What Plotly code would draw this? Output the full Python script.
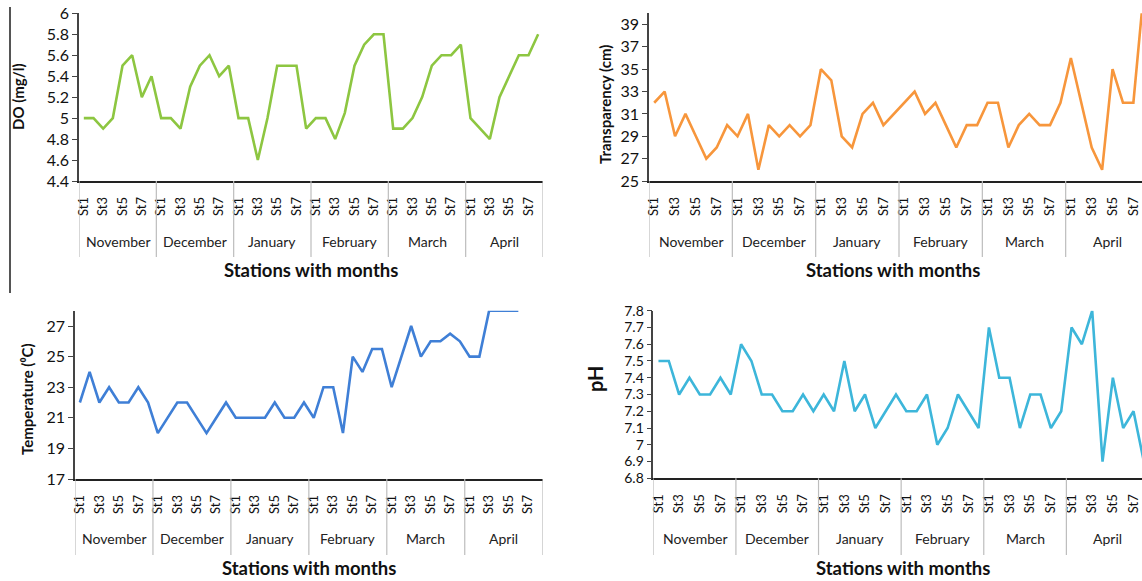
import plotly.graph_objects as go

W, H = 1142, 581

months = ["November", "December", "January", "February", "March", "April"]
stations = ["St1", "St2", "St3", "St4", "St5", "St6", "St7", "St8"]

do_vals = [5.0, 5.0, 4.9, 5.0, 5.5, 5.6, 5.2, 5.4,
           5.0, 5.0, 4.9, 5.3, 5.5, 5.6, 5.4, 5.5,
           5.0, 5.0, 4.6, 5.0, 5.5, 5.5, 5.5, 4.9,
           5.0, 5.0, 4.8, 5.05, 5.5, 5.7, 5.8, 5.8,
           4.9, 4.9, 5.0, 5.2, 5.5, 5.6, 5.6, 5.7,
           5.0, 4.9, 4.8, 5.2, 5.4, 5.6, 5.6, 5.8]

transparency_vals = [32, 33, 29, 31, 29, 27, 28, 30,
                     29, 31, 26, 30, 29, 30, 29, 30,
                     35, 34, 29, 28, 31, 32, 30, 31,
                     32, 33, 31, 32, 30, 28, 30, 30,
                     32, 32, 28, 30, 31, 30, 30, 32,
                     36, 32, 28, 26, 35, 32, 32, 42]

temperature_vals = [22, 24, 22, 23, 22, 22, 23, 22,
                    20, 21, 22, 22, 21, 20, 21, 22,
                    21, 21, 21, 21, 22, 21, 21, 22,
                    21, 23, 23, 20, 25, 24, 25.5, 25.5,
                    23, 25, 27, 25, 26, 26, 26.5, 26,
                    25, 25, 28, 28, 28, 28, None, None]

ph_vals = [7.5, 7.5, 7.3, 7.4, 7.3, 7.3, 7.4, 7.3,
           7.6, 7.5, 7.3, 7.3, 7.2, 7.2, 7.3, 7.2,
           7.3, 7.2, 7.5, 7.2, 7.3, 7.1, 7.2, 7.3,
           7.2, 7.2, 7.3, 7.0, 7.1, 7.3, 7.2, 7.1,
           7.7, 7.4, 7.4, 7.1, 7.3, 7.3, 7.1, 7.2,
           7.7, 7.6, 7.8, 6.9, 7.4, 7.1, 7.2, 6.9]

FONT = "Lato"
n = len(months) * len(stations)
xs = list(range(n))
tickvals = [i for i in xs if i % 2 == 0]
ticktext = [stations[i % 8] for i in tickvals]

def fx(px):
    return px / W

def fy(py):
    return 1 - py / H

panels = [
    dict(vals=do_vals, color="#8DC641", x0=79, x1=543, xend=543, y0=13.3, y1=181,
         yr=[4.4, 6], dtick=0.2, ytitle="DO (mg/l)", ytx=18, yty=97, ytsize=15,
         xtx=311, row=0, tfs=16),
    dict(vals=transparency_vals, color="#F7963C", x0=649, x1=1142, xend=1149, y0=13.3, y1=181,
         yr=[25, 40], dtick=2, ytitle="Transparency (cm)", ytx=605, yty=105, ytsize=15,
         xtx=893, row=0, tfs=16),
    dict(vals=temperature_vals, color="#3F7FD6", x0=75, x1=542.7, xend=542.7, y0=310.7, y1=479,
         yr=[17, 28], dtick=2, ytitle="Temperature (\u2070C)", ytx=27, yty=399, ytsize=15,
         xtx=309, row=1, tfs=16),
    dict(vals=ph_vals, color="#3DB6DA", x0=653.3, x1=1142, xend=1149, y0=310.7, y1=478.3,
         yr=[6.8, 7.8], dtick=0.1, ytitle="pH", ytx=595, yty=379, ytsize=20,
         xtx=903, row=1, tfs=14),
]

fig = go.Figure()
annotations = []
shapes = []

for i, p in enumerate(panels):
    sfx = "" if i == 0 else str(i + 1)
    slot = (p["xend"] - p["x0"]) / n
    xmax = -0.5 + (p["x1"] - p["x0"]) / slot
    fig.add_trace(go.Scatter(x=xs, y=p["vals"], mode="lines",
                             line=dict(color=p["color"], width=2.6),
                             xaxis="x" + sfx, yaxis="y" + sfx,
                             showlegend=False, hoverinfo="skip"))
    fig.layout["xaxis" + sfx] = dict(
        domain=[fx(p["x0"]), fx(p["x1"])], anchor="y" + sfx, automargin=False,
        range=[-0.5, xmax], tickmode="array", tickvals=tickvals, ticktext=ticktext,
        tickangle=-90, tickfont=dict(family=FONT, size=13, color="#111"),
        ticks="outside", ticklen=9, tickcolor="rgba(0,0,0,0)",
        showline=True, linecolor="#222", linewidth=1.5, showgrid=False, zeroline=False,
        fixedrange=True)
    fig.layout["yaxis" + sfx] = dict(
        domain=[fy(p["y1"]), fy(p["y0"])], anchor="x" + sfx, automargin=False,
        range=p["yr"], tick0=p["yr"][0], dtick=p["dtick"],
        tickfont=dict(family=FONT, size=p["tfs"], color="#111"),
        ticks="outside", ticklen=5, tickcolor="#444",
        showline=True, linecolor="#444", linewidth=1.5, showgrid=False, zeroline=False,
        fixedrange=True)
    sep_bottom = 257 if p["row"] == 0 else 555
    for m in range(len(months) + 1):
        shapes.append(dict(type="line", xref="x" + sfx, yref="paper",
                           x0=m * 8 - 0.5, x1=m * 8 - 0.5,
                           y0=fy(p["y1"]), y1=fy(sep_bottom),
                           line=dict(color="#BDBDBD", width=1.2)))
    label_y = 241.7 if p["row"] == 0 else 538.3
    for m, name in enumerate(months):
        annotations.append(dict(text=name, xref="x" + sfx, yref="paper",
                                x=m * 8 + 3.5, y=fy(label_y), showarrow=False,
                                xanchor="center", yanchor="middle",
                                font=dict(family=FONT, size=14, color="#222")))
    annotations.append(dict(text="<b>" + p["ytitle"] + "</b>", xref="paper", yref="paper",
                            x=fx(p["ytx"]), y=fy(p["yty"]), textangle=-90, showarrow=False,
                            xanchor="center", yanchor="middle",
                            font=dict(family=FONT, size=p["ytsize"], color="#111")))
    xt_y = 270 if p["row"] == 0 else 568
    annotations.append(dict(text="<b>Stations with months</b>", xref="paper", yref="paper",
                            x=fx(p["xtx"]), y=fy(xt_y), showarrow=False,
                            xanchor="center", yanchor="middle",
                            font=dict(family=FONT, size=18.5, color="#111")))

shapes.append(dict(type="line", xref="paper", yref="paper", x0=fx(10), x1=fx(10),
                   y0=fy(7), y1=fy(293), line=dict(color="#555", width=2)))

fig.update_layout(width=W, height=H, margin=dict(l=0, r=0, t=0, b=0, autoexpand=False),
                  paper_bgcolor="white", plot_bgcolor="white",
                  annotations=annotations, shapes=shapes,
                  font=dict(family=FONT))

fig.write_html("out.html", config={"displayModeBar": False},
               post_script="document.body.style.margin='0';document.body.style.overflow='hidden';")
